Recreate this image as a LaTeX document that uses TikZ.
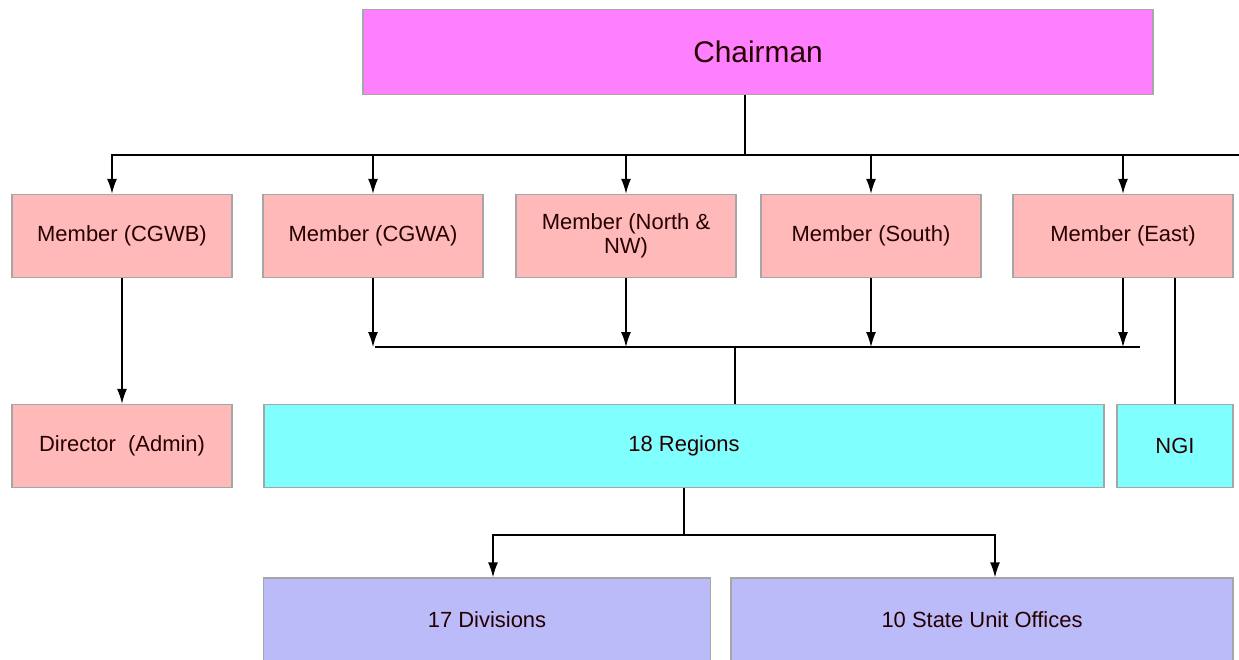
\documentclass[tikz,border=0pt]{standalone}
\usepackage{fontspec}
\setmainfont{Liberation Sans}
\usetikzlibrary{arrows.meta}
\definecolor{chairpink}{HTML}{FF80FF}
\definecolor{memberpink}{HTML}{FFB9B9}
\definecolor{regioncyan}{HTML}{80FFFF}
\definecolor{unitblue}{HTML}{BBBBF9}
\tikzset{
  box/.style={draw=gray!70, minimum height=1.66cm, inner sep=2pt,
    font=\fontsize{12.5}{14}\selectfont, text=black!85!red},
  member/.style={box, fill=memberpink, minimum width=4.4cm},
  arr/.style={-{Latex[length=3mm,width=2mm]}}
}
\begin{document}
\begin{tikzpicture}[x=0.02cm,y=-0.02cm, line width=0.8pt]
  \clip (0,0) rectangle (1239,659);
  \fill[white] (0,0) rectangle (1239,659);

  \node[box, fill=chairpink, minimum width=15.8cm, minimum height=1.7cm,
    font=\fontsize{17}{20}\selectfont] (chair) at (758,52) {Chairman};

  \node[member] (cgwb) at (122,236) {Member (CGWB)};
  \node[member] (cgwa) at (373,236) {Member (CGWA)};
  \node[member, align=center] (north) at (626,236) {Member (North \&\\NW)};
  \node[member] (south) at (871,236) {Member (South)};
  \node[member] (east) at (1123,236) {Member (East)};

  \node[member] (director) at (122,446) {Director~~(Admin)};
  \node[box, fill=regioncyan, minimum width=16.8cm] (regions) at (684,446) {18 Regions};
  \node[box, fill=regioncyan, minimum width=2.32cm] (ngi) at (1175,446) {NGI};

  \node[box, fill=unitblue, minimum width=8.94cm, minimum height=1.68cm] (div) at (487,620) {17 Divisions};
  \node[box, fill=unitblue, minimum width=10.04cm, minimum height=1.68cm] (suo) at (982,620) {10 State Unit Offices};

  \coordinate (topR) at (1239,155);
  \coordinate (busL) at (375,347);
  \coordinate (busR) at (1140,347);
  \coordinate (split) at (regions.south |- 0,535);

  % chairman to members
  \draw (chair.south -| 745,0) -- (topR -| 745,0);
  \draw[arr] (topR) -| ([xshift=-2mm]cgwb.north);
  \foreach \m in {cgwa,north,south,east}
    \draw[arr] (\m.north |- topR) -- (\m.north);

  % members to regions
  \foreach \m in {cgwa,north,south,east}
    \draw[arr] (\m.south) -- (\m.south |- busL);
  \draw (busL) -- (busR);
  \draw ([xshift=1.02cm]regions.north |- busL) -- ([xshift=1.02cm]regions.north);
  \draw (east.south -| ngi.north) -- (ngi.north);
  \draw[arr] (cgwb.south) -- (director.north);

  % regions to divisions and offices
  \draw (regions.south) -- (split);
  \draw[arr] (split) -| ([xshift=1.2mm]div.north);
  \draw[arr] (split) -| ([xshift=2.6mm]suo.north);
\end{tikzpicture}
\end{document}
